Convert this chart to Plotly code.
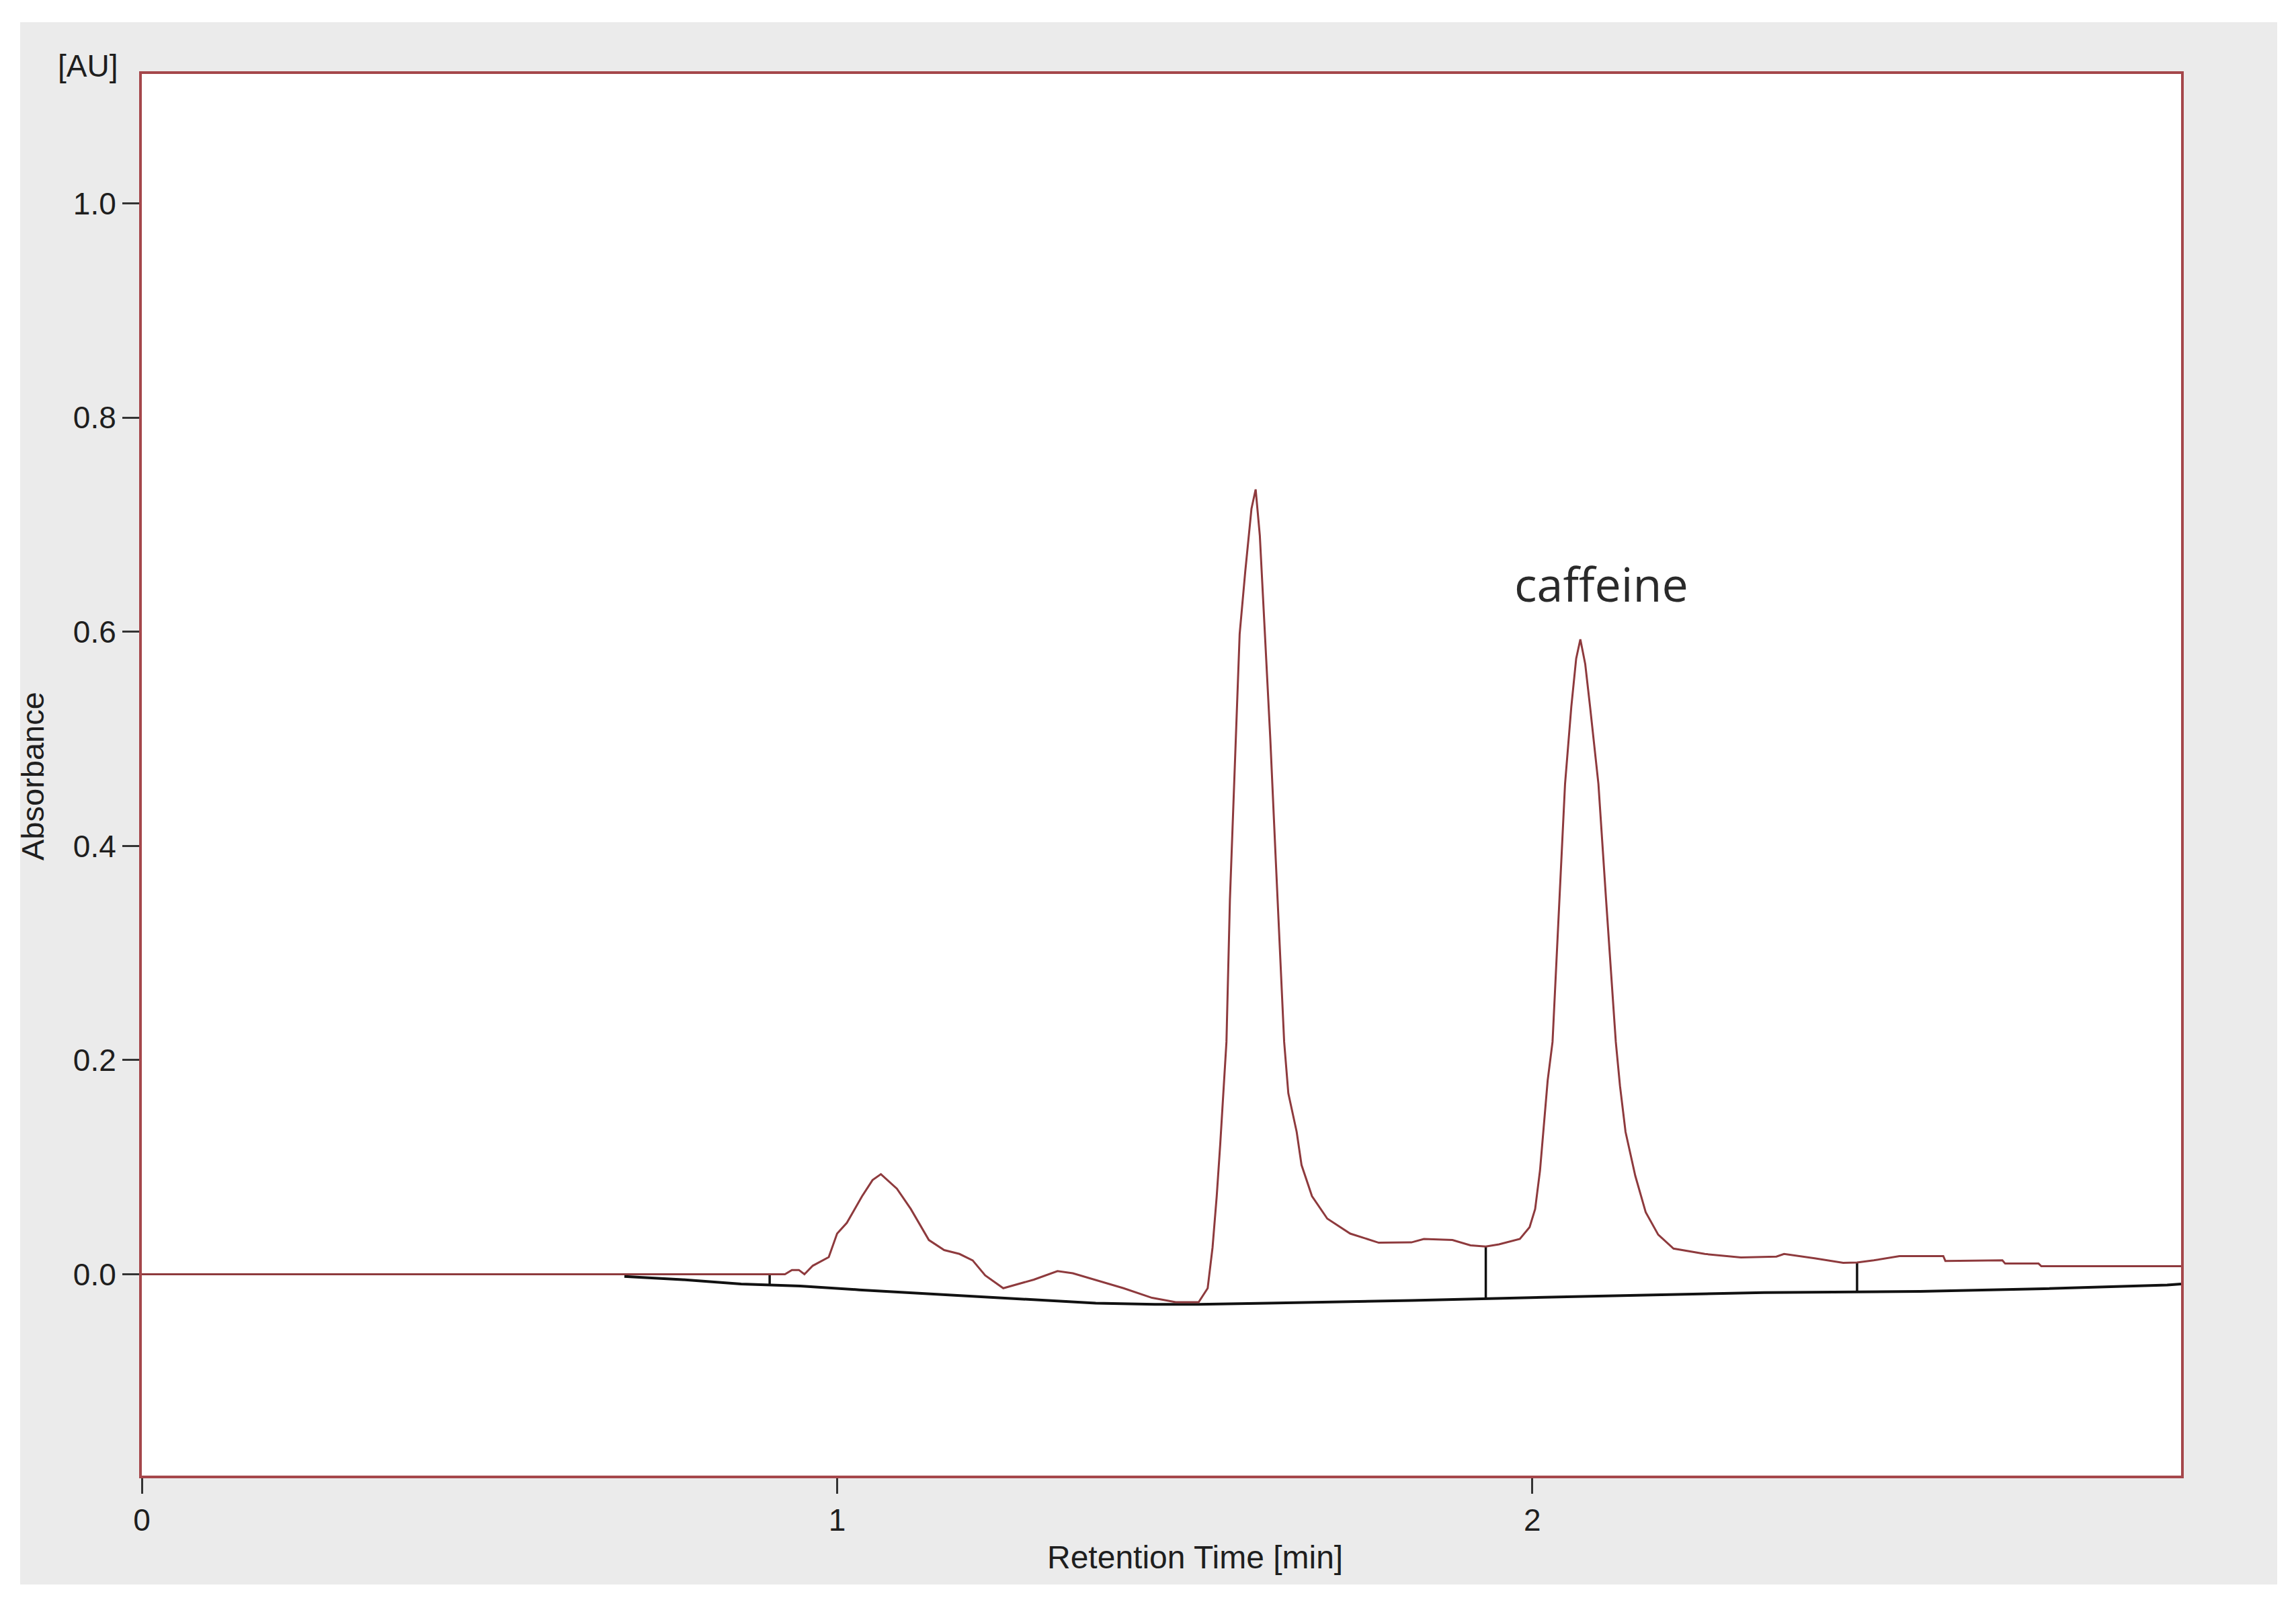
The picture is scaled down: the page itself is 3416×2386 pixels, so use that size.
import plotly.graph_objects as go

# ---------------- data ----------------
sig_t = [0.000, 0.925, 0.935, 0.945, 0.953, 0.965, 0.988, 1.000, 1.014, 1.036,
         1.051, 1.063, 1.086, 1.106, 1.132, 1.154, 1.176, 1.195, 1.213, 1.239,
         1.283, 1.317, 1.339, 1.376, 1.412, 1.453, 1.487, 1.520, 1.533, 1.540,
         1.546, 1.551, 1.556, 1.560, 1.565, 1.570, 1.579, 1.587, 1.596, 1.602,
         1.608, 1.615, 1.623, 1.631, 1.643, 1.649, 1.661, 1.668, 1.683, 1.705,
         1.738, 1.779, 1.826, 1.844, 1.885, 1.911, 1.933, 1.952, 1.982, 1.996,
         2.004, 2.011, 2.016, 2.022, 2.029, 2.039, 2.047, 2.056, 2.063, 2.069,
         2.076, 2.083, 2.095, 2.106, 2.120, 2.126, 2.134, 2.148, 2.163, 2.181,
         2.203, 2.248, 2.300, 2.351, 2.362, 2.406, 2.447, 2.467, 2.491, 2.528,
         2.591, 2.594, 2.676, 2.680, 2.728, 2.732, 2.933]
sig_a = [0.000, 0.000, 0.004, 0.004, 0.000, 0.008, 0.016, 0.038, 0.048, 0.073,
         0.088, 0.0935, 0.080, 0.061, 0.032, 0.0226, 0.019, 0.013, -0.001, -0.013,
         -0.005, 0.003, 0.001, -0.006, -0.013, -0.022, -0.026, -0.026, -0.013, 0.025,
         0.073, 0.121, 0.174, 0.217, 0.350, 0.436, 0.598, 0.656, 0.715, 0.733,
         0.690, 0.602, 0.501, 0.386, 0.217, 0.169, 0.133, 0.102, 0.073, 0.052,
         0.038, 0.0295, 0.0298, 0.033, 0.032, 0.027, 0.026, 0.028, 0.033, 0.044,
         0.061, 0.097, 0.133, 0.181, 0.217, 0.350, 0.458, 0.530, 0.575, 0.593,
         0.570, 0.530, 0.458, 0.350, 0.217, 0.176, 0.133, 0.092, 0.058, 0.037,
         0.024, 0.019, 0.0157, 0.0165, 0.019, 0.015, 0.0107, 0.011, 0.013, 0.017,
         0.017, 0.0125, 0.013, 0.010, 0.010, 0.0075, 0.0075]

base_t = [0.694, 0.777, 0.862, 0.947, 1.032, 1.117, 1.202, 1.286, 1.372, 1.457,
          1.520, 1.620, 1.826, 2.050, 2.333, 2.558, 2.736, 2.913, 2.933]
base_a = [-0.002, -0.005, -0.009, -0.011, -0.0145, -0.0175, -0.0205, -0.024, -0.027, -0.028,
          -0.028, -0.027, -0.0245, -0.021, -0.017, -0.016, -0.0135, -0.010, -0.009]

drop_t = [0.903, 1.933, 2.467]
drop_top = [0.000, 0.026, 0.011]
drop_bottom = [-0.010, -0.023, -0.0164]

x_tickvals = [0, 1, 2]
x_ticktext = ["0", "1", "2"]
y_tickvals = [0.0, 0.2, 0.4, 0.6, 0.8, 1.0]
y_ticktext = ["0.0", "0.2", "0.4", "0.6", "0.8", "1.0"]

peak_label = "caffeine"
peak_label_t = 2.099
peak_label_a = 0.645

x_range = [0, 2.933]
y_range = [-0.188, 1.121]

# ---------------- figure ----------------
OFF = 8  # browser default body margin
W, H = 3416 - 2 * OFF, 2386 - 2 * OFF
ML = 211 - OFF
MT = 110 - OFF
MR = W - (3245 - OFF)
MB = H - (2195 - OFF)
PW, PH = W - ML - MR, H - MT - MB


def px_to_paper_x(px):
    return (px - OFF - ML) / PW


def px_to_paper_y(py):
    return (H - MB - (py - OFF)) / PH


SIG_COLOR = "#8e3a3d"
FRAME_COLOR = "#a5474b"
TXT = "#1e1e1e"
FONT = "Liberation Sans"

fig = go.Figure()

fig.add_trace(go.Scatter(x=base_t, y=base_a, mode="lines",
                         line=dict(color="#111111", width=4), hoverinfo="skip",
                         showlegend=False))

dx, dy = [], []
for t, a0, a1 in zip(drop_t, drop_top, drop_bottom):
    dx += [t, t, None]
    dy += [a0, a1, None]
fig.add_trace(go.Scatter(x=dx, y=dy, mode="lines",
                         line=dict(color="#111111", width=3.5), hoverinfo="skip",
                         showlegend=False))

fig.add_trace(go.Scatter(x=sig_t, y=sig_a, mode="lines",
                         line=dict(color=SIG_COLOR, width=3), showlegend=False))

fig.add_annotation(x=peak_label_t, y=peak_label_a, xref="x", yref="y",
                   text=peak_label, showarrow=False,
                   font=dict(family="Open Sans", size=70, color="#2a2a2a"))

fig.add_annotation(x=px_to_paper_x(130), y=px_to_paper_y(98), xref="paper", yref="paper",
                   text="[AU]", showarrow=False, xanchor="center", yanchor="middle",
                   font=dict(family=FONT, size=46, color=TXT))
fig.add_annotation(x=px_to_paper_x(48), y=px_to_paper_y(1155), xref="paper", yref="paper",
                   text="Absorbance", showarrow=False, textangle=-90,
                   xanchor="center", yanchor="middle",
                   font=dict(family=FONT, size=47, color=TXT))
fig.add_annotation(x=px_to_paper_x(1778), y=px_to_paper_y(2316), xref="paper", yref="paper",
                   text="Retention Time [min]", showarrow=False,
                   xanchor="center", yanchor="middle",
                   font=dict(family=FONT, size=48, color=TXT))

# gray panel and white plot area
fig.add_shape(type="rect", xref="paper", yref="paper", layer="below",
              x0=px_to_paper_x(30), x1=px_to_paper_x(3388),
              y0=px_to_paper_y(2357), y1=px_to_paper_y(33),
              fillcolor="#ebebeb", line=dict(width=0))
fig.add_shape(type="rect", xref="paper", yref="paper", layer="below",
              x0=0, x1=1, y0=0, y1=1, fillcolor="white", line=dict(width=0))

fig.update_layout(
    width=W, height=H,
    margin=dict(l=ML, r=MR, t=MT, b=MB, pad=0),
    paper_bgcolor="white", plot_bgcolor="white",
    showlegend=False,
    font=dict(family=FONT, size=46, color=TXT),
)
fig.update_xaxes(range=x_range, tickvals=x_tickvals, ticktext=x_ticktext,
                 ticks="outside", ticklen=23, tickwidth=3, tickcolor="#333333",
                 showline=True, mirror=True, linecolor=FRAME_COLOR, linewidth=4,
                 showgrid=False, zeroline=False,
                 tickfont=dict(family=FONT, size=46, color=TXT))
fig.update_yaxes(range=y_range, tickvals=y_tickvals, ticktext=y_ticktext,
                 ticks="outside", ticklen=25, tickwidth=3, tickcolor="#333333",
                 showline=True, mirror=True, linecolor=FRAME_COLOR, linewidth=4,
                 showgrid=False, zeroline=False,
                 tickfont=dict(family=FONT, size=46, color=TXT))

fig.write_html("out.html")
